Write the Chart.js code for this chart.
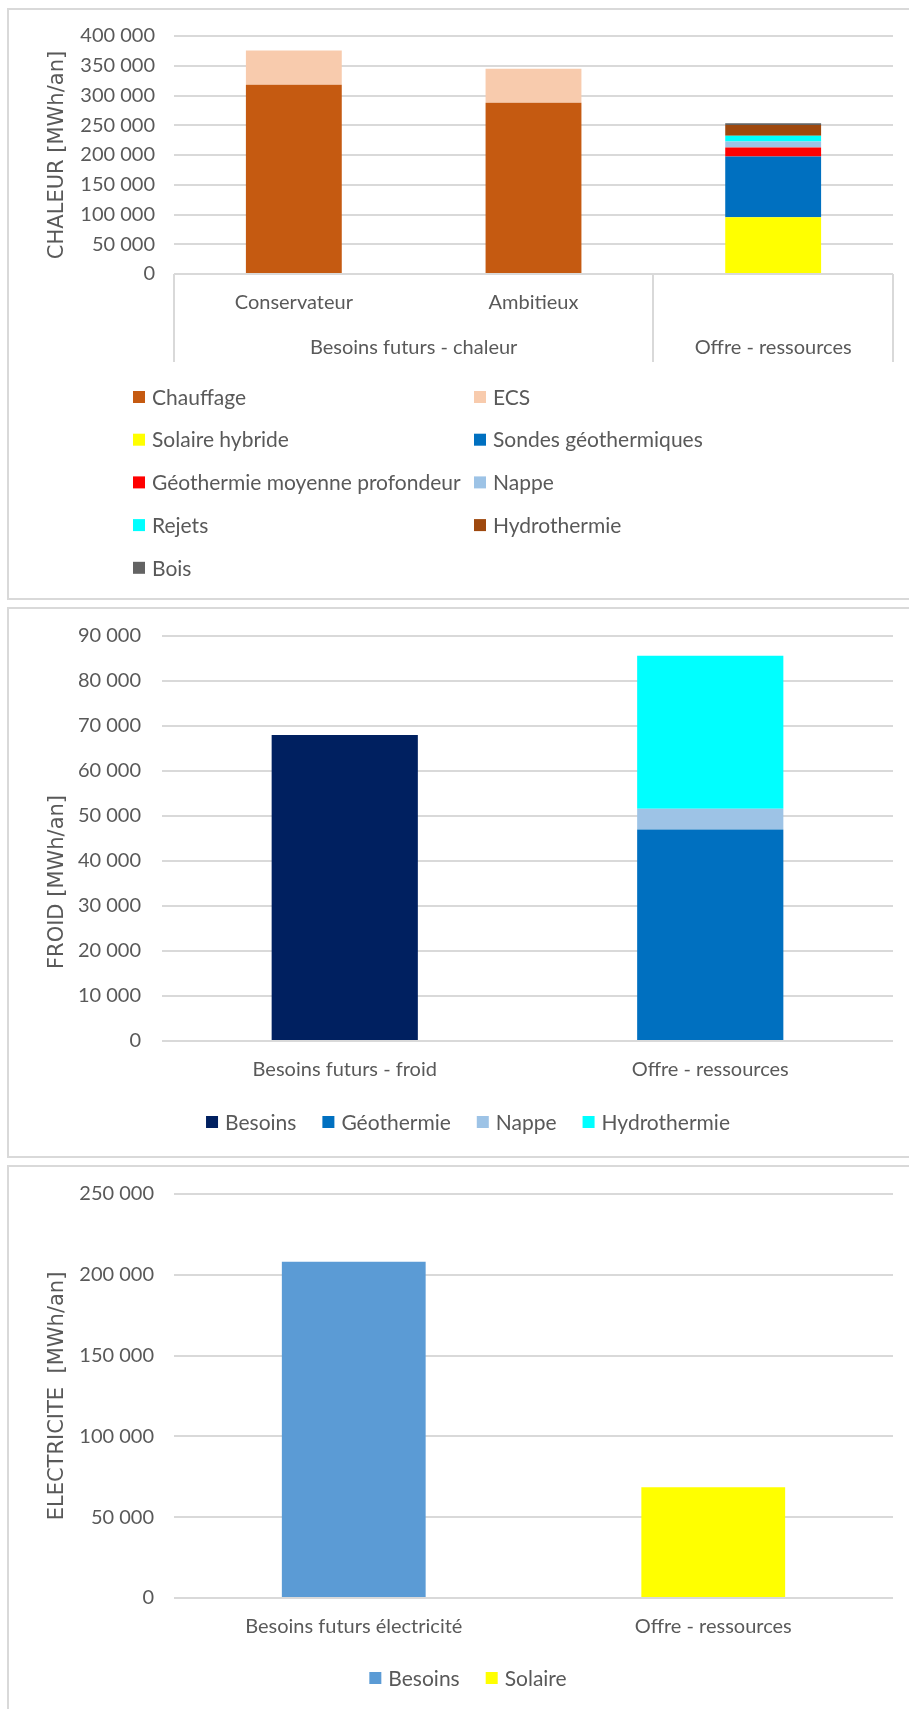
<!DOCTYPE html>
<html>
<head>
<meta charset="utf-8">
<script src="https://cdn.jsdelivr.net/npm/chart.js@4.4.1/dist/chart.umd.min.js"></script>
<style>
  body { margin: 0; background: #fff; }
  #page { position: relative; width: 909px; height: 1709px; overflow: hidden; }
  .panel { position: absolute; left: 7px; width: 930px; border: 2px solid #d9d9d9; box-sizing: border-box; }
  canvas { position: absolute; left: 0; }
</style>
</head>
<body>
<div id="page">
  <div class="panel" style="top:8px;height:592px"></div>
  <div class="panel" style="top:607px;height:551px"></div>
  <div class="panel" style="top:1165px;height:600px"></div>
  <canvas id="chaleurChart" width="909" height="602" style="top:0"></canvas>
  <canvas id="froidChart" width="909" height="560" style="top:602px"></canvas>
  <canvas id="elecChart" width="909" height="547" style="top:1162px"></canvas>
</div>
<script>
// --- CHALEUR ---
const chaleurCategories = ['Conservateur', 'Ambitieux', ''];
const chaleurGroups = ['Besoins futurs - chaleur', 'Offre - ressources'];
const chaleurGroupSizes = [2, 1];
const chaleurSeries = ['Chauffage', 'ECS', 'Solaire hybride', 'Sondes géothermiques',
  'Géothermie moyenne profondeur', 'Nappe', 'Rejets', 'Hydrothermie', 'Bois'];
const chaleurColors = ['#c55a11', '#f8cbad', '#ffff00', '#0070c0', '#ff0000', '#9dc3e6', '#00ffff', '#9e480e', '#636363'];
const chauffage = [318000, 288000, null];
const ecs = [57500, 57000, null];
const solaireHybride = [null, null, 95500];
const sondesGeo = [null, null, 102000];
const geoMoyenne = [null, null, 15000];
const nappeChaleur = [null, null, 10000];
const rejets = [null, null, 10000];
const hydroChaleur = [null, null, 18000];
const bois = [null, null, 2800];
const chaleurValues = [chauffage, ecs, solaireHybride, sondesGeo, geoMoyenne, nappeChaleur, rejets, hydroChaleur, bois];
const chaleurMax = 400000, chaleurStep = 50000;

// --- FROID ---
const froidCategories = ['Besoins futurs - froid', 'Offre - ressources'];
const froidSeries = ['Besoins', 'Géothermie', 'Nappe', 'Hydrothermie'];
const froidColors = ['#002060', '#0070c0', '#9dc3e6', '#00ffff'];
const besoinsFroid = [68000, null];
const geoFroid = [null, 47000];
const nappeFroid = [null, 4600];
const hydroFroid = [null, 34000];
const froidValues = [besoinsFroid, geoFroid, nappeFroid, hydroFroid];
const froidMax = 90000, froidStep = 10000;

// --- ELECTRICITE ---
const elecCategories = ['Besoins futurs électricité', 'Offre - ressources'];
const elecSeries = ['Besoins', 'Solaire'];
const elecColors = ['#5b9bd5', '#ffff00'];
const besoinsElec = [208000, null];
const solaireElec = [null, 68500];
const elecValues = [besoinsElec, solaireElec];
const elecMax = 250000, elecStep = 50000;

const TEXT = '#595959';
const GRID = '#d9d9d9';
const LABEL_FONT = 'Lato, "Open Sans", sans-serif';
Chart.defaults.font.family = LABEL_FONT;
Chart.defaults.font.size = 20;
Chart.defaults.color = TEXT;

function fmt(v) {
  return String(v).replace(/\B(?=(\d{3})+(?!\d))/g, ' ');
}

// rotated y title, centred on the plot unless a y is given
const axisTitlePlugin = {
  id: 'axisTitle',
  afterDraw(chart, args, opts) {
    const ctx = chart.ctx, a = chart.chartArea;
    const y = opts.y != null ? opts.y : (a.top + a.bottom) / 2;
    ctx.save();
    ctx.translate(opts.x, y);
    ctx.rotate(-Math.PI / 2);
    ctx.font = '21px "DejaVu Sans", sans-serif';
    ctx.fillStyle = TEXT;
    ctx.textAlign = 'center';
    ctx.textBaseline = 'middle';
    ctx.fillText(opts.text, 0, 0);
    ctx.restore();
  }
};

// legend with square boxes, either in fixed columns or one centred row
const boxLegendPlugin = {
  id: 'boxLegend',
  afterDraw(chart, args, opts) {
    const ctx = chart.ctx;
    const items = chart.data.datasets.map(d => ({ label: d.label, color: d.backgroundColor }));
    const box = 12, gap = 7;
    ctx.save();
    ctx.font = '21px ' + LABEL_FONT;
    ctx.textBaseline = 'middle';
    ctx.textAlign = 'left';
    const draw = (it, x, y) => {
      ctx.fillStyle = it.color;
      ctx.fillRect(x, y - box / 2, box, box);
      ctx.fillStyle = TEXT;
      ctx.fillText(it.label, x + box + gap, y + 1);
    };
    if (opts.columns) {
      items.forEach((it, i) => {
        draw(it, opts.colX[i % opts.columns], opts.top + Math.floor(i / opts.columns) * opts.rowHeight);
      });
    } else {
      const widths = items.map(it => box + gap + ctx.measureText(it.label).width);
      const total = widths.reduce((s, w) => s + w, 0) + opts.spacing * (items.length - 1);
      let x = opts.centerX - total / 2;
      items.forEach((it, i) => { draw(it, x, opts.top); x += widths[i] + opts.spacing; });
    }
    ctx.restore();
  }
};

// second level of the category axis (group names + separators)
const groupAxisPlugin = {
  id: 'groupAxis',
  afterDraw(chart, args, opts) {
    if (!opts.groups) return;
    const ctx = chart.ctx, xs = chart.scales.x, a = chart.chartArea;
    const n = chart.data.labels.length;
    const w = (xs.right - xs.left) / n;
    const edge = i => xs.getPixelForValue(i) - w / 2;
    ctx.save();
    ctx.strokeStyle = GRID;
    ctx.lineWidth = 2;
    ctx.font = '20px ' + LABEL_FONT;
    ctx.fillStyle = TEXT;
    ctx.textAlign = 'center';
    ctx.textBaseline = 'middle';
    let start = 0;
    const bounds = [edge(0)];
    opts.groups.forEach((g, k) => {
      const end = start + opts.sizes[k];
      const x0 = edge(start), x1 = edge(end);
      bounds.push(x1);
      ctx.fillText(g, (x0 + x1) / 2, a.bottom + opts.labelOffset);
      start = end;
    });
    bounds.forEach(x => {
      ctx.beginPath();
      ctx.moveTo(Math.round(x), a.bottom);
      ctx.lineTo(Math.round(x), a.bottom + opts.depth);
      ctx.stroke();
    });
    ctx.restore();
  }
};

function makeChart(id, labels, series, colors, values, cfg) {
  const datasets = series.map((name, i) => ({
    label: name,
    data: values[i],
    backgroundColor: colors[i],
    borderWidth: 0,
    barPercentage: 0.4,
    categoryPercentage: 1.0
  }));
  return new Chart(document.getElementById(id).getContext('2d'), {
    type: 'bar',
    data: { labels: labels, datasets: datasets },
    plugins: [axisTitlePlugin, boxLegendPlugin, groupAxisPlugin],
    options: {
      responsive: false,
      animation: false,
      layout: { padding: { top: cfg.padTop, right: 16, bottom: cfg.padBottom, left: 0 } },
      scales: {
        x: {
          stacked: true,
          grid: { display: false },
          border: { display: false },
          ticks: { padding: 9, maxRotation: 0, autoSkip: false },
          afterFit: s => { s.height = cfg.xHeight; }
        },
        y: {
          stacked: true,
          min: 0,
          max: cfg.max,
          grid: { color: GRID, lineWidth: 2, drawTicks: false },
          border: { display: false },
          ticks: { stepSize: cfg.step, padding: cfg.tickPad, callback: v => fmt(v) },
          afterFit: s => { s.width = cfg.plotLeft; }
        }
      },
      plugins: {
        legend: { display: false },
        tooltip: { enabled: false },
        axisTitle: { text: cfg.title, x: 58, y: cfg.titleY },
        boxLegend: cfg.legend,
        groupAxis: cfg.groupAxis || {}
      }
    }
  });
}

makeChart('chaleurChart', chaleurCategories, chaleurSeries, chaleurColors, chaleurValues, {
  max: chaleurMax, step: chaleurStep, padTop: 36, padBottom: 228, xHeight: 100,
  plotLeft: 174, tickPad: 19, title: 'CHALEUR [MWh/an]',
  legend: { columns: 2, colX: [133, 474], top: 397, rowHeight: 42.7 },
  groupAxis: { groups: chaleurGroups, sizes: chaleurGroupSizes, labelOffset: 74, depth: 88 }
});

makeChart('froidChart', froidCategories, froidSeries, froidColors, froidValues, {
  max: froidMax, step: froidStep, padTop: 34, padBottom: 61, xHeight: 60,
  plotLeft: 162, tickPad: 21, title: 'FROID [MWh/an]', titleY: 280,
  legend: { centerX: 468, top: 520, spacing: 26 }
});

makeChart('elecChart', elecCategories, elecSeries, elecColors, elecValues, {
  max: elecMax, step: elecStep, padTop: 32, padBottom: 51, xHeight: 60,
  plotLeft: 174, tickPad: 20, title: 'ELECTRICITE  [MWh/an]',
  legend: { centerX: 468, top: 516, spacing: 26 }
});
</script>
</body>
</html>
